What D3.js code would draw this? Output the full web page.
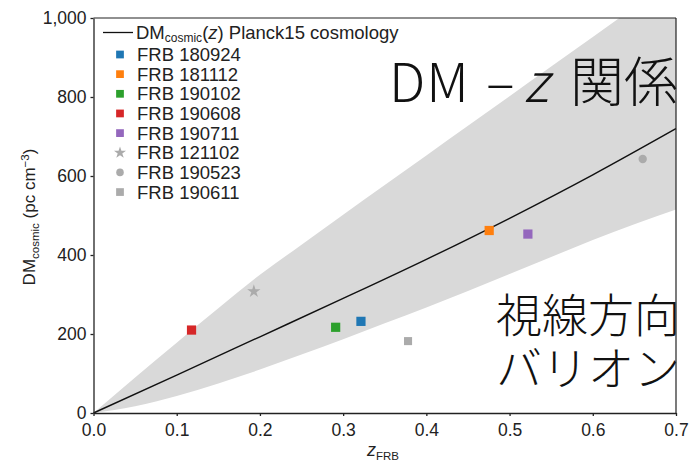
<!DOCTYPE html>
<html><head><meta charset="utf-8">
<script src="https://cdn.jsdelivr.net/npm/d3@7"></script>
<style>body{margin:0;background:#fff} svg{display:block}</style>
</head><body><svg id="c" width="691" height="469"></svg>
<script>
// ---- data ----
const frbNames = ["FRB 180924","FRB 181112","FRB 190102","FRB 190608","FRB 190711","FRB 121102","FRB 190523","FRB 190611"];
const frbZ = [0.3214,0.4755,0.291,0.1178,0.522,0.1927,0.660,0.378];
const frbDM = [232,462,217,210,453,308,643,182];
const frbColors = ["#1f77b4","#ff7f0e","#2ca02c","#d62728","#9467bd","#ababab","#ababab","#ababab"];
const frbSymbols = ["square","square","square","square","square","star","circle","square"];

const curveZ = [0,0.1,0.2,0.3,0.4,0.5,0.6,0.7];
const meanDM = [0,96,193,290,389,493,603,720];

const bandZ = [0,0.05,0.1,0.15,0.2,0.25,0.3,0.35,0.4,0.45,0.5,0.55,0.6,0.65,0.7];
const bandLow = [0,17,43,75,110,148,187,227,267,309,352,395,438,478,515];
const bandHigh = [0,90,178,265,350,426,502,577,652,727,802,877,952,1027,1100];

const xTicks = [0,0.1,0.2,0.3,0.4,0.5,0.6,0.7];
const yTicks = [0,200,400,600,800,1000];

// ---- layout ----
const svg = d3.select("#c");
const L = 93.5, R = 676, T = 18, B = 413;
const x = d3.scaleLinear().domain([0,0.7]).range([L,R]);
const y = d3.scaleLinear().domain([0,1000]).range([B,T]);
const font = "'Liberation Sans', Arial, Helvetica, sans-serif";
const ink = "#222";

svg.append("defs").append("clipPath").attr("id","clip")
  .append("rect").attr("x",L).attr("y",T).attr("width",R-L).attr("height",B-T);

// band
const band = bandZ.map((z,i)=>({z, lo:bandLow[i], hi:bandHigh[i]}));
svg.append("path").datum(band)
  .attr("clip-path","url(#clip)")
  .attr("fill","#d9d9d9")
  .attr("d", d3.area().x(d=>x(d.z)).y0(d=>y(d.lo)).y1(d=>y(d.hi)).curve(d3.curveMonotoneX));

// mean line
const mean = curveZ.map((z,i)=>({z, v:meanDM[i]}));
svg.append("path").datum(mean)
  .attr("fill","none").attr("stroke","#111").attr("stroke-width",1.4)
  .attr("d", d3.line().x(d=>x(d.z)).y(d=>y(d.v)).curve(d3.curveMonotoneX));

// frame (top and right)
svg.append("line").attr("x1",L).attr("x2",R).attr("y1",T).attr("y2",T).attr("stroke",ink).attr("stroke-width",1.2);
svg.append("line").attr("x1",R).attr("x2",R).attr("y1",T).attr("y2",B).attr("stroke",ink).attr("stroke-width",1.2);

// axes
const xAxis = svg.append("g").attr("transform",`translate(0,${B})`)
  .call(d3.axisBottom(x).tickValues(xTicks).tickFormat(d3.format(".1f")).tickSizeInner(3).tickSizeOuter(0).tickPadding(8));
const yAxis = svg.append("g").attr("transform",`translate(${L},0)`)
  .call(d3.axisLeft(y).tickValues(yTicks).tickFormat(d=> d===1000 ? "1,000" : d).tickSizeInner(3).tickSizeOuter(0).tickPadding(4));
[xAxis,yAxis].forEach(g=>{
  g.select(".domain").attr("stroke",ink).attr("stroke-width",1.3);
  g.selectAll(".tick line").attr("stroke",ink).attr("stroke-width",1.3);
  g.selectAll(".tick text").attr("fill",ink).style("font-family",font).style("font-size","17.5px");
});

// symbols
const symType = {square:d3.symbolSquare, star:d3.symbolStar, circle:d3.symbolCircle};
const symSize = {square:85, star:55, circle:55};
const pts = frbNames.map((n,i)=>({n, z:frbZ[i], dm:frbDM[i], c:frbColors[i], s:frbSymbols[i]}));
svg.append("g").selectAll("path").data(pts).join("path")
  .attr("transform",d=>`translate(${x(d.z)},${y(d.dm)})`)
  .attr("d",d=>d3.symbol().type(symType[d.s]).size(d.s==="square" && d.c==="#ababab" ? 65 : symSize[d.s])())
  .attr("fill",d=>d.c);

// legend
const lg = svg.append("g");
lg.append("line").attr("x1",103).attr("x2",133).attr("y1",32.5).attr("y2",32.5).attr("stroke","#111").attr("stroke-width",1.3);
const lt = lg.append("text").attr("x",136).attr("y",38.5).attr("fill",ink)
  .style("font-family",font).style("font-size","18.5px");
lt.append("tspan").text("DM");
lt.append("tspan").attr("dy",3).style("font-size","12px").text("cosmic");
lt.append("tspan").attr("dy",-3).text("(");
lt.append("tspan").style("font-style","italic").text("z");
lt.append("tspan").text(") Planck15 cosmology");

const rowY = i => 54.5 + i*19.65;
const rows = lg.selectAll("g.row").data(pts).join("g").attr("class","row")
  .attr("transform",(d,i)=>`translate(0,${rowY(i)})`);
rows.append("path").attr("transform","translate(120,0)")
  .attr("d",d=>d3.symbol().type(symType[d.s]).size(d.s==="square"?60:45)())
  .attr("fill",d=>d.c);
rows.append("text").attr("x",137).attr("y",6.5).attr("fill",ink)
  .style("font-family",font).style("font-size","18.5px").text(d=>d.n);

// axis titles
const yl = svg.append("text").attr("transform","translate(35,217) rotate(-90)")
  .attr("text-anchor","middle").attr("fill",ink).style("font-family",font).style("font-size","17px");
yl.append("tspan").text("DM");
yl.append("tspan").attr("dy",4).style("font-size","11.5px").text("cosmic");
yl.append("tspan").attr("dy",-4).text(" (pc cm");
yl.append("tspan").attr("dy",-6).style("font-size","11.5px").text("−3");
yl.append("tspan").attr("dy",6).text(")");

const xl = svg.append("text").attr("x",383).attr("y",456).attr("text-anchor","middle")
  .attr("fill",ink).style("font-family",font).style("font-size","18px");
xl.append("tspan").style("font-style","italic").text("z");
xl.append("tspan").attr("dy",4).style("font-size","11.5px").text("FRB");

// annotations
const jp = "'Noto Sans CJK JP', 'Noto Sans', sans-serif";
const a1 = svg.append("text").attr("y",102).attr("fill","#111")
  .style("font-family",jp).style("font-size","54px").style("font-weight","300");
a1.append("tspan").attr("x",389).style("letter-spacing","1px").text("DM");
a1.append("tspan").attr("x",486).text("–");
a1.append("tspan").attr("x",524).style("font-style","italic").text("z");
a1.append("tspan").attr("x",570).text("関係");

svg.append("text").attr("x",496).attr("y",332).attr("fill","#111")
  .style("font-family",jp).style("font-size","46px").style("font-weight","300").text("視線方向");
svg.append("text").attr("x",496).attr("y",385).attr("fill","#111")
  .style("font-family",jp).style("font-size","46px").style("font-weight","300").text("バリオン");
</script>
</body></html>
